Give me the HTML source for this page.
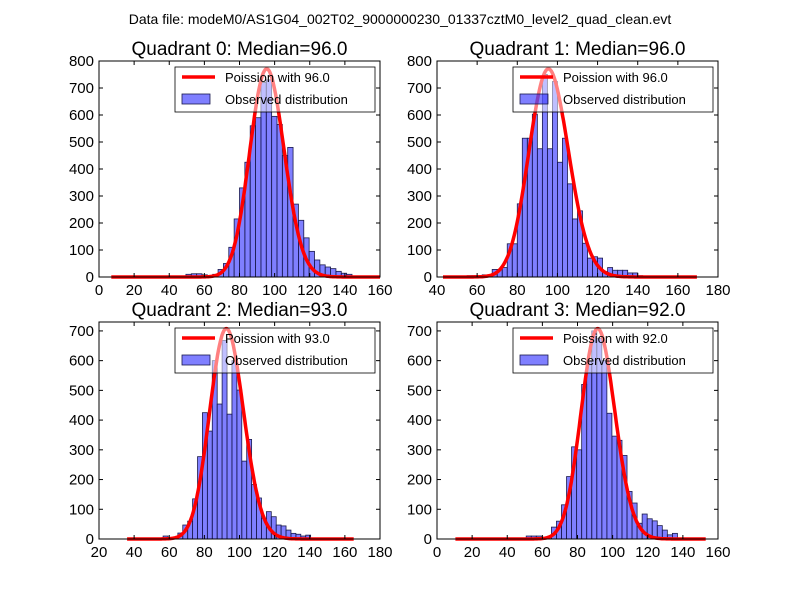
<!DOCTYPE html>
<html><head><meta charset="utf-8"><style>
body{margin:0;background:#fff;}
svg text{font-family:"Liberation Sans","DejaVu Sans",sans-serif;}
</style></head><body>
<svg id="fig" width="800" height="600" xmlns="http://www.w3.org/2000/svg">
<rect width="800" height="600" fill="#fff"/>
<text x="400" y="24" font-size="14" text-anchor="middle">Data file: modeM0/AS1G04_002T02_9000000230_01337cztM0_level2_quad_clean.evt</text>
</svg>
<script>
// ---- data ----
const q0Counts=[10,12,12,8,5,10,28,50,110,215,330,425,560,590,720,730,595,565,450,480,270,210,145,95,63,45,37,31,21,14,10];
const q1Counts=[5,5,3,8,5,28,28,35,123,123,271,514,514,603,475,750,475,724,425,514,345,215,245,125,70,75,70,20,35,25,25,25,15,15,5];
const q2Counts=[10,5,5,20,47,60,135,277,425,363,600,454,668,420,600,501,262,335,183,138,70,92,75,47,44,30,19,16,10,13];
const q3Counts=[10,10,10,5,5,40,60,115,210,310,300,520,600,700,674,600,423,346,332,281,160,121,53,84,68,61,45,30,14,19];
const binStarts=[49.5,55,56.5,50.8];
const binWidths=[3.05,2.5,2.8,2.87];
const medians=[96.0,96.0,93.0,92.0];
const curvePeaks=[770,770,707,707];
const curveRanges=[[7,160],[43,169.5],[36,165],[10.5,153]];
const xTicks=[[0,20,40,60,80,100,120,140,160],[40,60,80,100,120,140,160,180],[20,40,60,80,100,120,140,160,180],[0,20,40,60,80,100,120,140,160]];
const yTicks=[[0,100,200,300,400,500,600,700,800],[0,100,200,300,400,500,600,700,800],[0,100,200,300,400,500,600,700],[0,100,200,300,400,500,600,700]];
const xDomains=[[0,160],[40,180],[20,180],[0,160]];
const yMaxes=[800,800,730,730];
// ---- layout ----
const allCounts=[q0Counts,q1Counts,q2Counts,q3Counts];
const boxes=[[99,61,380,277],[437,61,718,277],[99,322,380,539],[437,322,718,539]];
const NS="http://www.w3.org/2000/svg";
const svg=document.getElementById('fig');
function mk(tag,attrs,parent){const e=document.createElementNS(NS,tag);for(const k in attrs)e.setAttribute(k,attrs[k]);(parent||svg).appendChild(e);return e;}
function logPois(k,mu){ // log Poisson with gamma approx via Stirling
  let lg=0; if(k>1){lg=(k+0.5)*Math.log(k+1)-(k+1)+0.5*Math.log(2*Math.PI)+1/(12*(k+1));}
  return k*Math.log(mu)-mu-lg;}
for(let p=0;p<4;p++){
  const [L,T,R,B]=boxes[p];
  const [x0,x1]=xDomains[p]; const yMax=yMaxes[p];
  const sx=v=>L+(v-x0)/(x1-x0)*(R-L);
  const sy=v=>B-v/yMax*(B-T);
  const g=mk('g',{});
  
  
  const t=mk('text',{x:(L+R)/2,y:T-6,'font-size':19,'text-anchor':'middle'},g);
  t.textContent='Quadrant '+p+': Median='+medians[p].toFixed(1);
  
  
  const counts=allCounts[p];
  for(let i=0;i<counts.length;i++){
    const a=binStarts[p]+i*binWidths[p], b=a+binWidths[p];
    const r=mk('rect',{x:sx(a),y:sy(counts[i]),width:sx(b)-sx(a),height:B-sy(counts[i]),fill:'rgba(0,0,255,0.5)',stroke:'#1a1a4d','stroke-width':0.8},g);
    
    
  }
  // poisson curve
  const mu=medians[p]; const peakLog=logPois(Math.floor(mu),mu);
  let d='';const [c0,c1]=curveRanges[p];
  for(let k=c0;k<=c1;k+=0.5){const v=curvePeaks[p]*Math.exp(logPois(k,mu)-peakLog);d+=(d?'L':'M')+sx(k).toFixed(1)+','+sy(v).toFixed(1);}
  const c=mk('path',{d:d,fill:'none',stroke:'#ff0000','stroke-width':3.5,'stroke-linejoin':'round'},g);
  
  
  mk('rect',{x:L,y:T,width:R-L,height:B-T,fill:'none',stroke:'#000','stroke-width':1},g);
  xTicks[p].forEach(v=>{const x=sx(v);
    mk('line',{x1:x,x2:x,y1:B,y2:B-4,stroke:'#000'},g);mk('line',{x1:x,x2:x,y1:T,y2:T+4,stroke:'#000'},g);
    const tx=mk('text',{x:x,y:B+18,'font-size':15,'text-anchor':'middle'},g);tx.textContent=v;
    
    });
  yTicks[p].forEach(v=>{const y=sy(v);
    mk('line',{x1:L,x2:L+4,y1:y,y2:y,stroke:'#000'},g);mk('line',{x1:R,x2:R-4,y1:y,y2:y,stroke:'#000'},g);
    const ty=mk('text',{x:L-5,y:y+5,'font-size':15,'text-anchor':'end'},g);ty.textContent=v;
    
    });
  // legend
  const lx=L+76, ly=T+6;
  const lg=mk('g',{},g);
  
  
  mk('rect',{x:lx,y:ly,width:200,height:45,fill:'rgba(255,255,255,0.5)',stroke:'#000','stroke-width':0.8},lg);
  mk('line',{x1:lx+7,x2:lx+40,y1:ly+10,y2:ly+10,stroke:'#ff0000','stroke-width':3.5},lg);
  const l1=mk('text',{x:lx+50,y:ly+15,'font-size':13},lg);l1.textContent='Poission with '+mu.toFixed(1);
  
  
  mk('rect',{x:lx+7,y:ly+27,width:28,height:10,fill:'rgba(0,0,255,0.5)',stroke:'#1a1a4d','stroke-width':0.8},lg);
  const l2=mk('text',{x:lx+50,y:ly+37,'font-size':13},lg);l2.textContent='Observed distribution';
  
  
}
</script>
</body></html>
